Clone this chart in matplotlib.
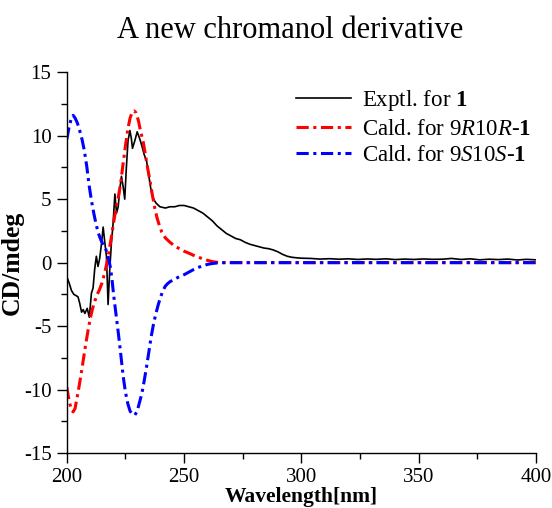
import matplotlib
matplotlib.use('Agg')
import matplotlib.pyplot as plt
from matplotlib.ticker import MultipleLocator

plt.rcParams['font.family'] = ['Liberation Serif', 'DejaVu Serif']
plt.rcParams['axes.unicode_minus'] = False
plt.rcParams['mathtext.fontset'] = 'custom'
plt.rcParams['mathtext.rm'] = 'Liberation Serif'
plt.rcParams['mathtext.it'] = 'Liberation Serif:italic'
plt.rcParams['mathtext.bf'] = 'Liberation Serif:bold'

# ---- data ----
exp_wl = [200, 201, 202, 203, 204, 204.8, 205.5, 206.3, 207, 207.7, 208.7, 209.6,
          210.5, 211.2, 211.9, 212.6, 213.3, 214, 214.8, 215.5, 216.2, 216.9,
          217.6, 218.3, 219, 219.7, 220.5, 221.2, 221.9, 222.6, 223.3, 224,
          224.7, 225.4, 226.1, 226.9, 227.5, 228, 229, 230, 231, 232, 233, 234,
          235, 236, 237, 238, 239.7, 242, 244, 246, 248, 250, 252, 254, 256,
          258, 260, 262, 264, 266, 268, 270, 272, 274, 276, 278, 280, 282, 284,
          286, 288, 290, 292, 294, 296, 298, 300, 304, 308, 312, 316, 320, 324,
          328, 332, 336, 340, 344, 348, 352, 356, 360, 364, 368, 372, 376, 380,
          384, 388, 392, 396, 400]
exp_cd = [-1.1, -1.6, -2.2, -2.5, -2.6, -2.7, -3.2, -3.9, -3.7, -4.0, -3.6, -4.3,
          -2.4, -2.0, -0.5, 0.5, -0.3, 0.3, 1.5, 2.8, 1.6, 0.5,
          -3.3, -0.6, 1.5, 3.0, 5.4, 3.9, 4.4, 5.8, 6.8, 6.0,
          5.0, 7.5, 9.6, 10.4, 9.8, 9.0, 9.6, 10.3, 9.8, 9.2, 8.5, 8.0,
          6.8, 5.6, 5.0, 4.7, 4.4, 4.3, 4.4, 4.4, 4.5, 4.5, 4.4, 4.3, 4.1,
          3.9, 3.6, 3.3, 2.9, 2.6, 2.3, 2.1, 1.9, 1.8, 1.6, 1.45, 1.35, 1.25, 1.15,
          1.1, 1.0, 0.85, 0.65, 0.5, 0.42, 0.38, 0.35, 0.33, 0.28, 0.31, 0.27, 0.3, 0.25,
          0.29, 0.26, 0.3, 0.24, 0.28, 0.25, 0.29, 0.26, 0.27, 0.33, 0.25, 0.3, 0.22, 0.27,
          0.24, 0.28, 0.21, 0.26, 0.22]

rr_wl = [200, 201, 202, 202.7, 203.5, 204, 205, 206, 207, 208, 209, 210, 211, 212,
         213, 214, 215, 216, 217, 218, 219, 220, 221, 222, 223, 224, 225, 226,
         227, 228, 228.7, 229.5, 230.5, 231.5, 232.5, 233.5, 234.5, 235.5, 236.5,
         237.5, 238.5, 239.5, 240.5, 242, 244, 246, 248, 250, 252, 254, 256, 258,
         260, 262, 264, 266, 270, 280, 300, 350, 400]
rr_cd = [-9.8, -10.9, -11.6, -11.75, -11.5, -11.0, -10.0, -8.9, -7.7, -6.5, -5.4, -4.4,
         -3.6, -3.0, -2.5, -2.1, -1.6, -0.9, -0.1, 0.9, 2.0, 3.2, 4.3, 5.2, 6.3, 7.8,
         9.2, 10.5, 11.4, 11.9, 11.95, 11.8, 11.2, 10.3, 9.6, 8.5, 7.4, 6.4, 5.3,
         4.3, 3.5, 2.9, 2.4, 1.95, 1.6, 1.3, 1.1, 0.9, 0.75, 0.58, 0.43, 0.3,
         0.18, 0.08, 0.03, 0.01, 0, 0, 0, 0, 0]

ss_wl = [200, 201, 202, 202.7, 203.5, 204.5, 205.5, 206.5, 207.5, 208.5, 209.5,
         210.5, 211.5, 212.5, 213.5, 214.5, 215.5, 216.5, 217.5, 218.5, 219.2,
         220, 221, 222, 223, 224, 225, 226, 227, 228, 229, 230, 231, 232, 233,
         234, 235, 236, 237, 238, 239, 240, 241, 242, 243, 244, 246, 248, 250,
         252, 254, 256, 258, 260, 262, 264, 266, 270, 300, 350, 400]
ss_cd = [9.7, 10.7, 11.4, 11.6, 11.4, 11.0, 10.4, 9.7, 8.8, 7.6, 6.1,
         4.9, 3.9, 3.0, 2.3, 1.8, 1.4, 1.1, 0.6, -0.3, -1.2,
         -2.6, -4.1, -5.6, -7.2, -8.9, -10.2, -11.1, -11.7, -11.95, -12.0, -11.7,
         -11.0, -10.3, -9.3, -8.2, -7.0, -5.8, -4.8, -4.0, -3.3, -2.7, -2.2,
         -1.85, -1.65, -1.5, -1.3, -1.1, -0.95, -0.75, -0.55, -0.38, -0.25, -0.14,
         -0.07, -0.03, -0.01, 0, 0, 0, 0]

# ---- figure ----
fig = plt.figure(figsize=(5.52, 5.08), dpi=100)
ax = fig.add_axes([0.121, 0.108, 0.850, 0.750])

dashdot = (0, (4, 1.5, 1, 1.5))
ax.plot(exp_wl, exp_cd, color='black', linewidth=1.2,
        label=r'Exptl. for $\mathbf{1}$')
ax.plot(rr_wl, rr_cd, color='#ff0000', linewidth=2.2, linestyle=dashdot,
        label=r'Cald. for 9$\mathit{R}$10$\mathit{R}$-$\mathbf{1}$')
ax.plot(ss_wl, ss_cd, color='#0000ff', linewidth=2.2, linestyle=dashdot,
        label=r'Cald. for 9$\mathit{S}$10$\mathit{S}$-$\mathbf{1}$')

ax.set_xlim(200, 400)
ax.set_ylim(-15, 15)
ax.xaxis.set_major_locator(MultipleLocator(50))
ax.xaxis.set_minor_locator(MultipleLocator(25))
ax.yaxis.set_major_locator(MultipleLocator(5))
ax.yaxis.set_minor_locator(MultipleLocator(2.5))
ax.tick_params(which='major', direction='out', length=7, width=1, labelsize=15)
ax.tick_params(axis='x', which='major', pad=3.5)
ax.tick_params(axis='y', which='major', pad=4)
ax.tick_params(which='minor', direction='out', length=4, width=1)
for side in ('top', 'right'):
    ax.spines[side].set_visible(False)
for side in ('left', 'bottom'):
    ax.spines[side].set_linewidth(1)

ax.set_xlabel('Wavelength[nm]', fontsize=15.5, fontweight='bold')
ax.xaxis.set_label_coords(0.5, -0.09)
ax.set_ylabel('CD/mdeg', fontsize=18.5, fontweight='bold')
ax.yaxis.set_label_coords(-0.092, 0.5)

ax.legend(loc='upper right', frameon=False, fontsize=16.5, handlelength=2.4,
          handletextpad=0.5, labelspacing=0.25, borderaxespad=0.2,
          bbox_to_anchor=(1.02, 0.995))

fig.text(0.525, 0.94, 'A new chromanol derivative', ha='center', va='center',
         fontsize=22)

fig.savefig('out.png', dpi=100)
